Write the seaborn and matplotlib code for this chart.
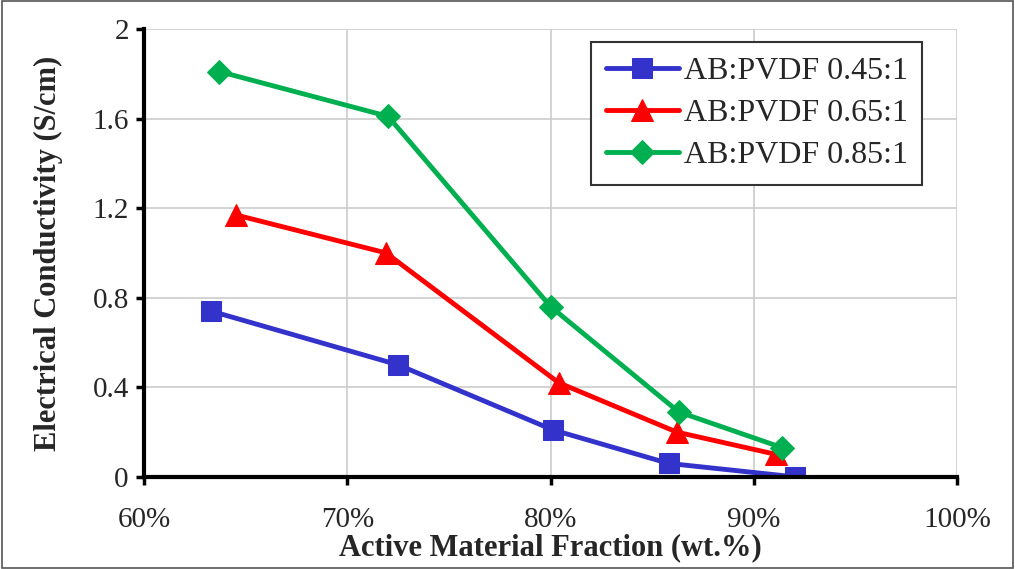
import pandas as pd
import numpy as np
import seaborn as sns
import matplotlib.pyplot as plt
from matplotlib.ticker import FuncFormatter
from matplotlib.patches import Rectangle

sns.set_style("whitegrid")
plt.rcParams['font.family'] = ['Liberation Serif', 'DejaVu Serif']

# Data
labels = ["AB:PVDF 0.45:1", "AB:PVDF 0.65:1", "AB:PVDF 0.85:1"]
x_045 = [63.3, 72.5, 80.1, 85.8, 92.0]
y_045 = [0.74, 0.50, 0.21, 0.06, 0.00]
x_065 = [64.5, 71.9, 80.4, 86.2, 91.1]
y_065 = [1.17, 1.00, 0.42, 0.20, 0.10]
x_085 = [63.7, 72.0, 80.0, 86.3, 91.4]
y_085 = [1.81, 1.61, 0.76, 0.29, 0.13]

colors = ["#3333CC", "#FF0000", "#00B050"]
markers = ["s", "^", "D"]
msizes = [15, 16, 12.5]

rows = []
for lab, xs, ys in zip(labels, [x_045, x_065, x_085], [y_045, y_065, y_085]):
    for xv, yv in zip(xs, ys):
        rows.append({"Series": lab, "x": xv, "y": yv})
df = pd.DataFrame(rows)

fig = plt.figure(figsize=(10.15, 5.69), dpi=100)
ax = fig.add_axes([0.142, 0.162, 0.801, 0.787])

for lab, c, m, ms in zip(labels, colors, markers, msizes):
    sub = df[df["Series"] == lab]
    sns.lineplot(data=sub, x="x", y="y", ax=ax, color=c, marker=m, markersize=ms,
                 markeredgecolor=c, linewidth=3.5, label=lab, sort=False)

ax.set_xlim(60, 100)
ax.set_ylim(0, 2)
ax.set_xticks([60, 70, 80, 90, 100])
ax.set_yticks([0, 0.4, 0.8, 1.2, 1.6, 2.0])
ax.xaxis.set_major_formatter(FuncFormatter(lambda v, p: f"{v:.0f}%"))
ax.yaxis.set_major_formatter(FuncFormatter(lambda v, p: "0" if v == 0 else ("2" if v == 2 else f"{v:.1f}")))
ax.tick_params(axis="both", labelsize=21, direction="out", length=6, width=2.5, color="black",
               bottom=True, left=True)
ax.tick_params(axis="x", pad=16)
ax.tick_params(axis="y", pad=5)

ax.grid(True, color="#CCCCCC", linewidth=1.2)
for s in ["top", "right"]:
    ax.spines[s].set_visible(False)
for s in ["left", "bottom"]:
    ax.spines[s].set_color("black")
    ax.spines[s].set_linewidth(3)

ax.set_xlabel("Active Material Fraction (wt.%)", fontsize=22, fontweight="bold", labelpad=0)
ax.set_ylabel("Electrical Conductivity (S/cm)", fontsize=22, fontweight="bold", labelpad=21)

leg = ax.legend(loc="upper right", bbox_to_anchor=(0.957, 0.97), fontsize=23, frameon=True,
                fancybox=False, edgecolor="#333333", framealpha=1, handlelength=2.3,
                borderpad=0.45, labelspacing=0.4, handletextpad=0.15, borderaxespad=0)
leg.get_frame().set_linewidth(1.5)

fig.patches.append(Rectangle((0.002, 0.002), 0.996, 0.996, transform=fig.transFigure,
                             fill=False, edgecolor="#555555", linewidth=1.2))

plt.savefig("out.png", dpi=100)
